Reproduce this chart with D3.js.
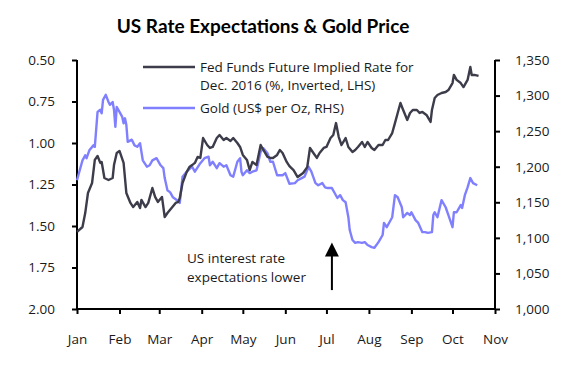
<!DOCTYPE html>
<html>
<head>
<meta charset="utf-8">
<script src="https://cdn.jsdelivr.net/npm/d3@7"></script>
<style>
  body { margin: 0; background: #fff; }
  text { font-family: "Open Sans", sans-serif; fill: #1a1a1a; }
</style>
</head>
<body>
<div id="chart"></div>
<script>
let margin = ({top: 60, right: 87, bottom: 58, left: 77});
let width = 582;
let height = 367;

////////////////////////////////
//   Data (2016)
////////////////////////////////
let year = "2016";

let fedDates = ["01-01","01-05","01-07","01-09","01-12","01-14","01-16","01-18","01-19","01-21",
  "01-24","01-27","01-28","01-30","02-01","02-04","02-06","02-09","02-11","02-14",
  "02-16","02-17","02-20","02-22","02-25","02-27","02-29","03-03","03-05","03-07",
  "03-10","03-13","03-15","03-16","03-18","03-21","03-23","03-25","03-27","03-29",
  "03-31","04-02","04-05","04-07","04-09","04-12","04-14","04-17","04-19","04-22",
  "04-24","04-27","04-29","05-01","05-04","05-06","05-08","05-11","05-14","05-16",
  "05-19","05-21","05-23","05-26","05-28","05-30","06-02","06-04","06-07","06-10",
  "06-12","06-14","06-17","06-19","06-21","06-24","06-26","06-29","07-01","07-04",
  "07-06","07-08","07-10","07-12","07-15","07-17","07-20","07-22","07-24","07-27",
  "07-29","07-31","08-03","08-05","08-08","08-11","08-13","08-15","08-18","08-20",
  "08-22","08-24","08-26","08-29","08-31","09-02","09-05","09-07","09-09","09-12",
  "09-15","09-16","09-18","09-20","09-23","09-26","09-28","10-01","10-02","10-04",
  "10-07","10-09","10-12","10-14","10-15","10-17","10-20"];
let fedRate = [1.536,1.506,1.422,1.301,1.241,1.102,1.078,1.120,1.114,1.211,
  1.223,1.211,1.133,1.060,1.048,1.120,1.301,1.361,1.386,1.355,
  1.392,1.343,1.386,1.361,1.271,1.325,1.355,1.325,1.446,1.422,
  1.392,1.361,1.355,1.331,1.241,1.175,1.145,1.133,1.120,1.084,
  1.090,0.970,1.012,1.030,1.024,0.970,0.952,0.982,0.970,0.988,
  0.970,1.000,1.024,1.072,1.102,1.163,1.114,1.133,1.012,1.042,
  1.084,1.090,1.090,1.072,1.042,1.060,1.114,1.139,1.163,1.205,
  1.193,1.181,1.145,1.030,1.054,1.090,1.060,1.030,1.024,0.970,
  0.952,0.880,0.964,1.012,0.970,1.024,1.054,1.042,1.024,0.994,
  1.024,0.994,1.030,1.042,1.012,1.012,0.982,0.982,0.940,0.880,
  0.819,0.759,0.801,0.861,0.819,0.801,0.801,0.819,0.813,0.831,
  0.873,0.801,0.729,0.711,0.699,0.693,0.681,0.639,0.590,0.620,
  0.639,0.663,0.620,0.542,0.590,0.590,0.596];

let goldDates = ["01-01","01-03","01-05","01-07","01-08","01-10","01-13","01-14","01-16","01-18",
  "01-19","01-20","01-22","01-24","01-25","01-27","01-28","01-29","01-30","02-01",
  "02-03","02-04","02-05","02-06","02-07","02-10","02-12","02-14","02-16","02-18",
  "02-21","02-23","02-25","02-28","03-02","03-04","03-05","03-07","03-09","03-11",
  "03-14","03-16","03-18","03-21","03-25","03-27","03-31","04-03","04-06","04-07",
  "04-09","04-12","04-14","04-17","04-19","04-22","04-24","04-27","04-29","04-30",
  "05-01","05-04","05-06","05-08","05-11","05-14","05-16","05-19","05-21","05-23",
  "05-26","05-30","06-01","06-04","06-08","06-10","06-13","06-15","06-18","06-20",
  "06-23","06-25","06-28","06-30","07-02","07-05","07-07","07-09","07-11","07-13",
  "07-15","07-17","07-18","07-20","07-22","07-24","07-27","07-29","07-31","08-03",
  "08-05","08-08","08-11","08-12","08-14","08-16","08-18","08-20","08-22","08-25",
  "08-26","08-29","08-31","09-01","09-04","09-06","09-09","09-11","09-13","09-16",
  "09-17","09-18","09-20","09-23","09-26","09-28","10-01","10-02","10-04","10-07",
  "10-08","10-10","10-12","10-14","10-16","10-19"];
let goldPrice = [1181,1195,1209,1216,1212,1223,1230,1228,1277,1280,
  1275,1294,1301,1291,1287,1291,1280,1256,1284,1277,
  1270,1261,1268,1259,1235,1238,1230,1228,1233,1209,
  1200,1202,1209,1212,1202,1198,1184,1167,1164,1157,
  1153,1149,1186,1193,1200,1193,1205,1212,1214,1202,
  1207,1198,1205,1200,1202,1188,1186,1207,1212,1193,
  1188,1195,1191,1193,1195,1221,1226,1219,1207,1207,
  1188,1188,1191,1176,1177,1181,1184,1186,1200,1193,
  1177,1174,1177,1171,1170,1170,1163,1156,1160,1153,
  1150,1129,1111,1097,1093,1094,1093,1094,1090,1087,
  1086,1094,1104,1121,1115,1122,1129,1160,1157,1143,
  1129,1135,1132,1136,1125,1121,1108,1108,1107,1108,
  1132,1136,1129,1153,1143,1132,1115,1136,1136,1146,
  1142,1160,1171,1184,1177,1174];

let monthLabels = ["Jan","Feb","Mar","Apr","May","Jun","Jul","Aug","Sep","Oct","Nov"];
let leftTicks = [0.50, 0.75, 1.00, 1.25, 1.50, 1.75, 2.00];
let rightTicks = [1000, 1050, 1100, 1150, 1200, 1250, 1300, 1350];

let parseDate = d3.timeParse("%Y-%m-%d");
let fedData = fedDates.map((d, i) => [parseDate(year + "-" + d), fedRate[i]]);
let goldData = goldDates.map((d, i) => [parseDate(year + "-" + d), goldPrice[i]]);

/////////////////////////////
//   Setup Chart Elements
/////////////////////////////
let svg = d3.select("#chart")
  .append("svg")
  .attr("width", width)
  .attr("height", height);

let plotW = width - margin.left - margin.right;
let plotH = height - margin.top - margin.bottom;

let g = svg.append("g")
  .attr("transform", "translate(" + margin.left + "," + margin.top + ")");

let x = d3.scaleTime()
  .domain([parseDate("2016-01-01"), parseDate("2016-11-01")])
  .range([0, plotW]);
let yL = d3.scaleLinear().domain([0.5, 2.0]).range([0, plotH]);   // inverted
let yR = d3.scaleLinear().domain([1000, 1350]).range([plotH, 0]);

let monthTicks = d3.timeMonth.range(parseDate("2016-01-01"), parseDate("2016-11-02"));

svg.append("text")
  .attr("x", 263)
  .attr("y", 33)
  .attr("text-anchor", "middle")
  .style("font-family", "Lato, sans-serif")
  .style("font-weight", "bold")
  .style("font-size", "19px")
  .style("fill", "#000")
  .text("US Rate Expectations & Gold Price");

// axes
let xAxis = g.append("g")
  .attr("transform", "translate(0," + plotH + ")")
  .call(d3.axisBottom(x).tickValues(monthTicks).tickFormat((d, i) => monthLabels[i]).tickSize(5).tickPadding(20));
let leftAxis = g.append("g")
  .call(d3.axisLeft(yL).tickValues(leftTicks).tickFormat(d3.format(".2f")).tickSize(5).tickPadding(17));
let rightAxis = g.append("g")
  .attr("transform", "translate(" + plotW + ",0)")
  .call(d3.axisRight(yR).tickValues(rightTicks).tickFormat(d3.format(",")).tickSize(5).tickPadding(15));

[xAxis, leftAxis, rightAxis].forEach(function(a) {
  a.select(".domain").attr("stroke", "#000").attr("stroke-width", 2);
  a.selectAll(".tick line").attr("stroke", "#000").attr("stroke-width", 2);
  a.selectAll(".tick text")
    .style("font-family", "Open Sans, sans-serif")
    .style("font-size", "13.5px")
    .attr("fill", "#1a1a1a");
});
xAxis.select(".domain").attr("d", "M0,0H" + plotW);
leftAxis.select(".domain").attr("d", "M0,0V" + plotH);
rightAxis.select(".domain").attr("d", "M0,0V" + plotH);

///////////////////////////
//   Drawing the Lines
///////////////////////////
let goldLine = d3.line().x(d => x(d[0])).y(d => yR(d[1]));
let fedLine = d3.line().x(d => x(d[0])).y(d => yL(d[1]));

g.append("path")
  .datum(goldData)
  .attr("fill", "none")
  .attr("stroke", "#8080ff")
  .attr("stroke-width", 2.4)
  .attr("stroke-linejoin", "round")
  .attr("d", goldLine);

g.append("path")
  .datum(fedData)
  .attr("fill", "none")
  .attr("stroke", "#3c3c4a")
  .attr("stroke-width", 2.4)
  .attr("stroke-linejoin", "round")
  .attr("d", fedLine);

////////////////////
//   Legend
////////////////////
let legend = svg.append("g").style("font-size", "13.5px");
legend.append("line").attr("x1", 143).attr("x2", 195).attr("y1", 67).attr("y2", 67)
  .attr("stroke", "#3c3c4a").attr("stroke-width", 2.4);
legend.append("text").attr("x", 200).attr("y", 72).text("Fed Funds Future Implied Rate for");
legend.append("text").attr("x", 200).attr("y", 90).text("Dec. 2016 (%, Inverted, LHS)");
legend.append("line").attr("x1", 143).attr("x2", 195).attr("y1", 108).attr("y2", 108)
  .attr("stroke", "#8080ff").attr("stroke-width", 2.4);
legend.append("text").attr("x", 200).attr("y", 113).text("Gold (US$ per Oz, RHS)");

////////////////////
//   Annotation
////////////////////
let arrowX = x(parseDate("2016-07-05"));
let arrowBottom = yL(1.886);
let arrowTip = yL(1.60);

g.append("line")
  .attr("x1", arrowX).attr("x2", arrowX)
  .attr("y1", arrowBottom).attr("y2", arrowTip + 10)
  .attr("stroke", "#000").attr("stroke-width", 2);
g.append("path")
  .attr("d", "M" + arrowX + "," + arrowTip + " l7,14 h-14 Z")
  .attr("fill", "#000");

let note = g.append("text").style("font-size", "13.5px");
note.append("tspan").attr("x", 110).attr("y", 203).text("US interest rate");
note.append("tspan").attr("x", 110).attr("y", 222).text("expectations lower");
</script>
</body>
</html>
